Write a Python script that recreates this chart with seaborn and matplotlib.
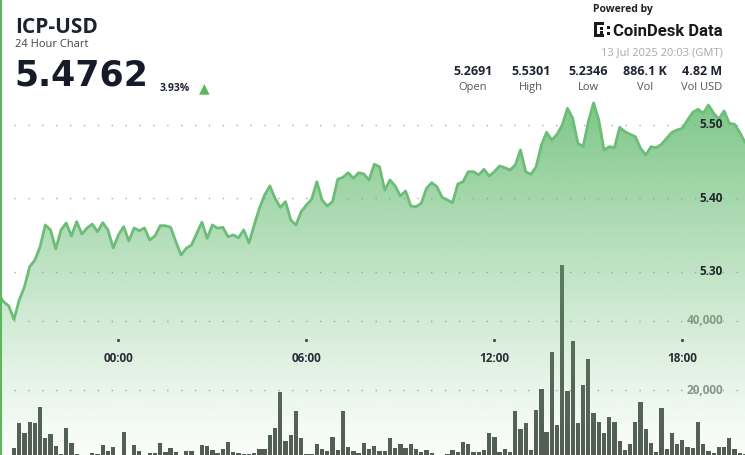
import numpy as np
import matplotlib
matplotlib.use('Agg')
import matplotlib.pyplot as plt
import matplotlib.transforms as mtransforms
from matplotlib.lines import Line2D
from matplotlib.patches import Rectangle
import seaborn as sns

# ICP-USD 10-minute closes, 12 Jul 20:10 -> 13 Jul 20:00 (GMT)
price_night = [5.2691, 5.2589, 5.2531, 5.2346, 5.2613, 5.2790, 5.3067, 5.3158, 5.3340, 5.3636,
               5.3568, 5.3308, 5.3568, 5.3663, 5.3486, 5.3681, 5.3513, 5.3595, 5.3649, 5.3544,
               5.3667, 5.3568, 5.3322, 5.3499, 5.3613, 5.3417, 5.3595, 5.3558, 5.3595, 5.3431,
               5.3486, 5.3626, 5.3626, 5.3604, 5.3408, 5.3226, 5.3318, 5.3363, 5.3522, 5.3673,
               5.3454, 5.3636, 5.3591, 5.3604, 5.3476, 5.3499, 5.3462, 5.3568, 5.3390]
price_morning = [5.3636, 5.3864, 5.4045, 5.4168, 5.4000, 5.3877, 5.3954, 5.3704, 5.3636, 5.3817,
                 5.3909, 5.3986, 5.4226, 5.3977, 5.3895, 5.3954, 5.4259, 5.4286, 5.4349, 5.4273,
                 5.4349, 5.4332, 5.4250, 5.4464, 5.4431, 5.4113, 5.4250, 5.4168, 5.4031, 5.4100,
                 5.3895, 5.3885, 5.3932, 5.4136, 5.4213, 5.4158, 5.4014, 5.3977, 5.3940, 5.4195,
                 5.4226, 5.4363, 5.4363, 5.4318, 5.4396, 5.4304]
price_afternoon = [5.4363, 5.4441, 5.4417, 5.4386, 5.4454, 5.4659, 5.4363, 5.4327, 5.4431, 5.4727,
                   5.4900, 5.4795, 5.4873, 5.5000, 5.5228, 5.5091, 5.4750, 5.4704, 5.5045, 5.5301,
                   5.5068, 5.4659, 5.4704, 5.4690, 5.4969, 5.4909, 5.4873, 5.4840, 5.4682, 5.4591,
                   5.4704, 5.4690, 5.4737, 5.4819, 5.4900, 5.4932, 5.4955, 5.5068, 5.5173, 5.5214,
                   5.5160, 5.5273, 5.5160, 5.5082, 5.5191, 5.5023, 5.5010, 5.4900, 5.4762]

vol_night = [7160, 600, 600, 3100, 10350, 7630, 10820, 10530, 15170, 6000,
             7250, 3770, 1450, 8900, 4730, 1360, 500, 500, 1830, 1450,
             4060, 2410, 3570, 500, 7740, 500, 3970, 2410, 800, 1830,
             1830, 4550, 2120, 3280, 2120, 700, 2320, 2320, 700, 3970,
             3680, 2520, 1740, 2810, 4840, 1940, 1740, 1450]
vol_morning = [1450, 1640, 2900, 2900, 6960, 8890, 19530, 5320, 6960, 13920,
               6190, 1450, 1450, 4350, 2800, 2420, 6280, 2610, 13920, 3580,
               2320, 1640, 4540, 2900, 3770, 2420, 2420, 6190, 3090, 4350,
               3290, 4350, 2900, 2130, 2610, 1840, 500, 500, 1450, 2610,
               1930, 4830, 4250, 1930, 1930, 2610, 7440]
vol_afternoon = [6480, 2130, 2900, 2130, 14010, 8600, 10540, 2610, 14210, 20200,
                 7830, 30930, 9860, 56260, 19720, 34310, 10340, 21460, 28900, 13440,
                 10730, 7440, 12180, 10730, 5220, 2610, 4450, 10730, 16630, 8600,
                 4740, 1930, 14790, 2900, 7440, 4350, 5510, 3380, 3090, 10630,
                 4350, 2420, 1640, 3580, 3580, 5990, 2900, 1840, 1500]

tick_hours = [0, 6, 12, 18]
tick_labels = ['00:00', '06:00', '12:00', '18:00']
price_ticks = [5.30, 5.40, 5.50]
vol_ticks = [20000, 40000]

stat_values = ['5.2691', '5.5301', '5.2346', '886.1 K', '4.82 M']
stat_names = ['Open', 'High', 'Low', 'Vol', 'Vol USD']

price = np.array(price_night + price_morning + price_afternoon)
volume = np.array(vol_night + vol_morning + vol_afternoon)
hours = -23 / 6 + np.arange(len(price)) / 6  # hours from 13 Jul 00:00

sns.set_style('white')
plt.rcParams['font.family'] = ['Open Sans', 'DejaVu Sans']

W, H = 745, 455
fig = plt.figure(figsize=(W / 100, H / 100), dpi=100)
ax_vol = fig.add_axes([0, 0, 1, 1])
ax = ax_vol.twinx()

# volume bars (underneath the price area)
ax_vol.bar(hours, volume, width=0.82 / 6, color='#535b54', linewidth=0, zorder=2)
for v in vol_ticks:
    ax_vol.axhline(v, color='#a9ada9', lw=1, ls=(0, (1, 9)), zorder=1)

# price area with vertical gradient
poly = ax.fill_between(hours, price, 5.0, facecolor='none', edgecolor='none')
ny = 256
rgba = np.zeros((ny, 1, 4))
rgba[..., 0] = 95 / 255
rgba[..., 1] = 185 / 255
rgba[..., 2] = 108 / 255
rgba[..., 3] = np.linspace(0.05, 0.85, ny)[:, None] ** 1.2
img = ax.imshow(rgba, extent=[hours[0], hours[-1], 5.05, 5.54], origin='lower',
                aspect='auto', interpolation='bilinear', zorder=1)
img.set_clip_path(poly.get_paths()[0], ax.transData)

sns.lineplot(x=hours, y=price, ax=ax, color='#6cbd78', linewidth=2, zorder=3)

for p in price_ticks:
    ax.axhline(p, color='#a9ada9', lw=1, ls=(0, (1, 9)), zorder=0.5)

ax_vol.set_xlim(-3.78, 20.0)
ax.set_xlim(-3.78, 20.0)
ax.set_ylim(5.0498, 5.6705)
ax_vol.set_ylim(1160, 133040)
ax.set_axis_off()
ax_vol.set_axis_off()

# axis labels inside the plot
tx = mtransforms.blended_transform_factory(ax.transData, ax.transAxes)
for h, lab in zip(tick_hours, tick_labels):
    ax.text(h, 1 - 358 / H, lab, transform=tx, ha='center', va='center',
            fontsize=8.5, fontweight='bold', color='#2a2e36', zorder=6)
    ax.plot([h], [1 - 340 / H], marker='s', ms=1.2, color='#555555', transform=tx, zorder=6)

ty = mtransforms.blended_transform_factory(ax.transAxes, ax.transData)
for p in price_ticks:
    ax.text(723 / W, p, f'{p:.2f}', transform=ty, ha='right', va='center',
            fontsize=8.5, fontweight='bold', color='#23262c', zorder=6)
tv = mtransforms.blended_transform_factory(ax_vol.transAxes, ax_vol.transData)
for v in vol_ticks:
    ax_vol.text(723 / W, v, f'{v:,}', transform=tv, ha='right', va='center',
                fontsize=8.5, fontweight='bold', color='#8e968e', zorder=6)


def fx(x):
    return x / W


def fy(y):
    return 1 - y / H


# header
fig.add_artist(Line2D([0.0015, 0.0015], [0, 1], transform=fig.transFigure, color='#5cb85c', lw=1.5))
fig.text(fx(15), fy(33), 'ICP-USD', fontsize=15, fontweight='bold', color='#1c2230', va='baseline')
fig.text(fx(15), fy(47), '24 Hour Chart', fontsize=8, color='#444444', va='baseline')
fig.text(fx(14), fy(86), '5.4762', fontsize=25, fontweight='bold', color='#151b28',
         va='baseline', family='DejaVu Sans')
fig.text(fx(160), fy(91), '3.93%', fontsize=7.5, fontweight='bold', color='#1c2230', va='baseline')
fig.text(fx(199), fy(92), '\u25b2', fontsize=10, color='#5cb85c', va='baseline', family='DejaVu Sans')

fig.text(fx(593), fy(12), 'Powered by', fontsize=7.5, fontweight='bold', color='#222222', va='baseline')
fig.text(fx(723), fy(36), 'CoinDesk Data', fontsize=12, fontweight='bold', color='#1a1a1a',
         va='baseline', ha='right', family='Roboto')
# little logo mark
for (x0, y0, w, h) in [(594, 22, 3, 15), (594, 22, 10, 3), (594, 34, 10, 3),
                       (600, 27, 2.5, 2.5), (600, 31, 2.5, 2.5), (607, 26, 2.5, 2.5), (607, 32, 2.5, 2.5)]:
    fig.add_artist(Rectangle((fx(x0), fy(y0 + h)), w / W, h / H, transform=fig.transFigure,
                             color='#1a1a1a', lw=0))
fig.text(fx(723), fy(55), '13 Jul 2025 20:03 (GMT)', fontsize=8, color='#a8a8a8', va='baseline', ha='right')

stat_x = [473, 531, 588, 645, 702]
for x, val, name in zip(stat_x, stat_values, stat_names):
    fig.text(fx(x), fy(75), val, fontsize=9, fontweight='bold', color='#1c2230', ha='center', va='baseline')
    fig.text(fx(x), fy(90), name, fontsize=8, color='#555555', ha='center', va='baseline')

fig.savefig('out.png', dpi=100)
